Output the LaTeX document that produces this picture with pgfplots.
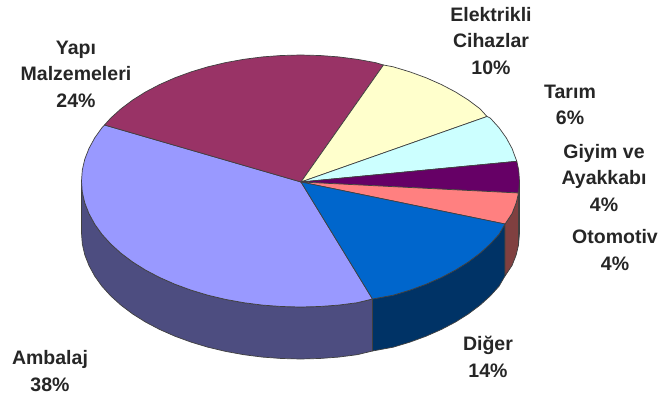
\documentclass[border=0pt]{standalone}
\usepackage{pgfplots}
\pgfplotsset{compat=1.18}
\usepackage{fontspec}
\setmainfont{Liberation Sans}
\definecolor{yapi}{HTML}{993366}
\definecolor{amb}{HTML}{9999FF}
\definecolor{elek}{HTML}{FFFFCC}
\definecolor{tarim}{HTML}{CCFFFF}
\definecolor{giyim}{HTML}{660066}
\definecolor{oto}{HTML}{FF8080}
\definecolor{diger}{HTML}{0066CC}
\definecolor{ambS}{HTML}{4D4D80}
\definecolor{digerS}{HTML}{003366}
\definecolor{otoS}{HTML}{804040}
\definecolor{giyimS}{HTML}{330033}
\tikzset{lab/.style={font=\fontsize{19.5}{26.5}\selectfont\bfseries, align=center, text=black!85, inner sep=0pt}}
\begin{document}
\begin{tikzpicture}
\begin{axis}[
  scale only axis, width=661pt, height=403pt,
  xmin=0, xmax=661, ymin=0, ymax=403, y dir=reverse,
  hide axis, clip=false,
  every axis plot/.append style={mark=none, line width=0.7pt, draw=black!75, line join=round},
]
\path[fill=white, draw=none] (axis cs:0,0) rectangle (axis cs:661,403);
% side walls (front rim)
\addplot[fill=ambS] coordinates {(81.5,181)(82.3,192)(84.8,202.9)(89,213.6)(94.7,224.1)(102,234.3)(110.8,244)(121.1,253.3)(132.7,262)(145.6,270.1)(159.7,277.5)(174.9,284.2)(191,290.1)(207.9,295.2)(225.6,299.4)(243.8,302.7)(262.5,305.1)(281.4,306.5)(300.5,307)(319.6,306.5)(338.5,305.1)(357.2,302.7)(372.5,299)
 (372.5,351)(357.2,354.7)(338.5,357.1)(319.6,358.5)(300.5,359)(281.4,358.5)(262.5,357.1)(243.8,354.7)(225.6,351.4)(207.9,347.2)(191,342.1)(174.9,336.2)(159.7,329.5)(145.6,322.1)(132.7,314)(121.1,305.3)(110.8,296)(102,286.3)(94.7,276.1)(89,265.6)(84.8,254.9)(82.3,244)(81.5,233)} --cycle;
\addplot[fill=digerS] coordinates {(372.5,299)(393.1,295.2)(410,290.1)(426.1,284.2)(441.3,277.5)(455.4,270.1)(468.3,262)(479.9,253.3)(490.2,244)(499,234.3)(505,224)
 (505,276)(499,286.3)(490.2,296)(479.9,305.3)(468.3,314)(455.4,322.1)(441.3,329.5)(426.1,336.2)(410,342.1)(393.1,347.2)(372.5,351)} --cycle;
\addplot[fill=otoS] coordinates {(505,224)(512,213.6)(516.2,202.9)(518.5,193)
 (518.5,245)(516.2,254.9)(512,265.6)(505,276)} --cycle;
\addplot[fill=giyimS] coordinates {(518.5,193)(519.5,181)(519.5,233)(518.5,245)} --cycle;
% top face
\addplot[fill=amb] coordinates {(301,182)(104.5,125)(102,127.7)(94.7,137.9)(89,148.4)(84.8,159.1)(82.3,170)(81.5,181)(82.3,192)(84.8,202.9)(89,213.6)(94.7,224.1)(102,234.3)(110.8,244)(121.1,253.3)(132.7,262)(145.6,270.1)(159.7,277.5)(174.9,284.2)(191,290.1)(207.9,295.2)(225.6,299.4)(243.8,302.7)(262.5,305.1)(281.4,306.5)(300.5,307)(319.6,306.5)(338.5,305.1)(357.2,302.7)(372.5,299)} --cycle;
\addplot[fill=yapi] coordinates {(301,182)(383.5,65)(375.4,62.6)(357.2,59.3)(338.5,56.9)(319.6,55.5)(300.5,55)(281.4,55.5)(262.5,56.9)(243.8,59.3)(225.6,62.6)(207.9,66.8)(191,71.9)(174.9,77.8)(159.7,84.5)(145.6,91.9)(132.7,100)(121.1,108.7)(110.8,118)(104.5,125)} --cycle;
\addplot[fill=elek] coordinates {(301,182)(487,116.5)(479.9,108.7)(468.3,100)(455.4,91.9)(441.3,84.5)(426.1,77.8)(410,71.9)(393.1,66.8)(383.5,65)} --cycle;
\addplot[fill=tarim] coordinates {(301,182)(516.8,161.3)(512,148.4)(506.3,137.9)(499,127.7)(490.2,118)(487,116.5)} --cycle;
\addplot[fill=giyim] coordinates {(301,182)(518.5,193)(519.5,181)(518.7,170)(516.8,161.3)} --cycle;
\addplot[fill=oto] coordinates {(301,182)(505,224)(512,213.6)(516.2,202.9)(518.5,193)} --cycle;
\addplot[fill=diger] coordinates {(301,182)(372.5,299)(393.1,295.2)(410,290.1)(426.1,284.2)(441.3,277.5)(455.4,270.1)(468.3,262)(479.9,253.3)(490.2,244)(499,234.3)(505,224)} --cycle;
% labels
\node[lab] at (axis cs:76,74) {Yapı\\Malzemeleri\\24\%};
\node[lab] at (axis cs:491,41) {Elektrikli\\Cihazlar\\10\%};
\node[lab] at (axis cs:570,105) {Tarım\\6\%};
\node[lab] at (axis cs:604,178) {Giyim ve\\Ayakkabı\\4\%};
\node[lab] at (axis cs:615,250) {Otomotiv\\4\%};
\node[lab] at (axis cs:488,357) {Diğer\\14\%};
\node[lab] at (axis cs:50,371) {Ambalaj\\38\%};
\end{axis}
\end{tikzpicture}
\end{document}
